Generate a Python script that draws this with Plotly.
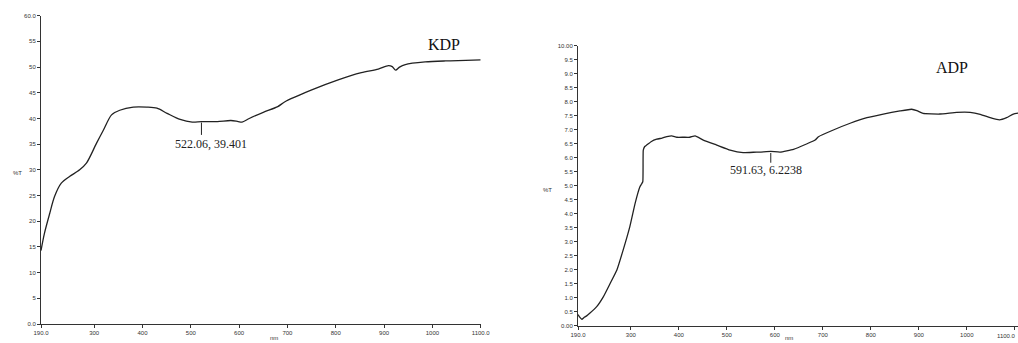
import plotly.graph_objects as go

# KDP transmittance (%T) vs wavelength (nm)
kdp_wl = [190, 197, 208, 218, 232, 249, 270, 284, 305, 319, 336, 353, 381, 409, 430, 451,
          478, 503, 522, 555, 583, 598, 606, 621, 650, 680, 694, 749, 805, 853, 888, 909,
          917, 924, 932, 944, 985, 1027, 1069, 1100]
kdp_t = [14.3, 17.6, 21.5, 24.8, 27.4, 28.7, 30.0, 31.3, 35.2, 37.7, 40.7, 41.6, 42.2, 42.2,
         42.0, 41.0, 39.8, 39.3, 39.4, 39.4, 39.6, 39.4, 39.3, 40.0, 41.2, 42.3, 43.2, 45.5,
         47.5, 48.9, 49.6, 50.3, 50.1, 49.4, 50.0, 50.5, 51.0, 51.2, 51.3, 51.4]

# ADP transmittance (%T) vs wavelength (nm)
adp_wl = [190, 194, 198, 203, 208, 215, 229, 243, 257, 271, 284, 298, 309, 319, 322, 325,
          326, 329, 333, 343, 354, 365, 375, 385, 396, 410, 423, 434, 451, 479, 507, 534,
          562, 569, 591.63, 611, 639, 666, 684, 691, 722, 757, 792, 826, 861, 885, 896,
          909, 944, 979, 1007, 1028, 1052, 1068, 1083, 1097, 1107]
adp_t = [0.40, 0.30, 0.23, 0.30, 0.35, 0.45, 0.68, 1.04, 1.51, 1.99, 2.70, 3.54, 4.37, 4.96,
         5.05, 5.14, 6.27, 6.40, 6.45, 6.58, 6.66, 6.70, 6.75, 6.78, 6.73, 6.73, 6.73, 6.78,
         6.63, 6.45, 6.27, 6.18, 6.20, 6.20, 6.2238, 6.20, 6.30, 6.49, 6.63, 6.75, 6.99,
         7.23, 7.43, 7.56, 7.67, 7.73, 7.68, 7.58, 7.56, 7.62, 7.62, 7.55, 7.41, 7.35, 7.43,
         7.56, 7.59]

x_tickvals = [190, 300, 400, 500, 600, 700, 800, 900, 1000, 1100]
x_ticktext = ["190.0", "300", "400", "500", "600", "700", "800", "900", "1000", "1100.0"]
x2_ticktext = x_ticktext[:-1] + [""]
kdp_yvals = [0, 5, 10, 15, 20, 25, 30, 35, 40, 45, 50, 55, 60]
kdp_ytext = ["0.0", "5", "10", "15", "20", "25", "30", "35", "40", "45", "50", "55", "60.0"]
adp_yvals = [i * 0.5 for i in range(21)]
adp_ytext = ["0.00"] + ["%.1f" % (i * 0.5) for i in range(1, 20)] + ["10.00"]

W, H = 1018, 343
line_col = "#222222"
tick_font = dict(family="Arial, Liberation Sans, sans-serif", size=6, color="#333333")
serif = "Times New Roman, Liberation Serif, serif"

fig = go.Figure()
fig.add_trace(go.Scatter(x=kdp_wl, y=kdp_t, mode="lines",
                         line=dict(color=line_col, width=1.3, shape="spline", smoothing=0.8),
                         xaxis="x", yaxis="y", showlegend=False))
fig.add_trace(go.Scatter(x=adp_wl, y=adp_t, mode="lines",
                         line=dict(color=line_col, width=1.3, shape="spline", smoothing=0.4),
                         xaxis="x2", yaxis="y2", showlegend=False))

axis_common = dict(showgrid=False, zeroline=False, showline=True, linecolor="#333333",
                   linewidth=1, ticks="outside", ticklen=3, tickcolor="#333333",
                   tickfont=tick_font, automargin=False)

fig.update_layout(
    width=W, height=H,
    margin=dict(l=0, r=0, t=0, b=0, autoexpand=False),
    paper_bgcolor="white", plot_bgcolor="white",
    xaxis=dict(domain=[41 / W, 480.7 / W], range=[190, 1100], anchor="y",
               tickmode="array", tickvals=x_tickvals, ticktext=x_ticktext, **axis_common),
    yaxis=dict(domain=[(H - 324) / H, (H - 15.7) / H], range=[0, 60], anchor="x",
               tickmode="array", tickvals=kdp_yvals, ticktext=kdp_ytext, **axis_common),
    xaxis2=dict(domain=[578 / W, 1.0], range=[190, 1106.7], anchor="y2",
                tickmode="array", tickvals=x_tickvals, ticktext=x2_ticktext, **axis_common),
    yaxis2=dict(domain=[(H - 325.7) / H, (H - 45.7) / H], range=[0, 10], anchor="x2",
                tickmode="array", tickvals=adp_yvals, ticktext=adp_ytext, **axis_common),
)

# Marker ticks for the minima
fig.add_shape(type="line", xref="x", yref="y", x0=522.06, x1=522.06, y0=39.2, y1=36.8,
              line=dict(color=line_col, width=1))
fig.add_shape(type="line", xref="x2", yref="y2", x0=591.63, x1=591.63, y0=6.17, y1=5.82,
              line=dict(color=line_col, width=1))

ann = []
ann.append(dict(x=542, y=35.0, xref="x", yref="y", text="522.06, 39.401", showarrow=False,
                font=dict(family=serif, size=12, color="#222222")))
ann.append(dict(x=582, y=5.56, xref="x2", yref="y2", text="591.63, 6.2238", showarrow=False,
                font=dict(family=serif, size=12, color="#222222")))
ann.append(dict(x=444 / W, y=(H - 34) / H, xref="paper", yref="paper", text="KDP",
                showarrow=False, font=dict(family=serif, size=16, color="#111111")))
ann.append(dict(x=970 / W, y=(H - 57) / H, xref="paper", yref="paper", text="ADP",
                showarrow=False, font=dict(family=serif, size=16, color="#111111")))
ann.append(dict(x=11 / W, y=(H - 173) / H, xref="paper", yref="paper", text="%T",
                showarrow=False, font=tick_font))
ann.append(dict(x=547 / W, y=(H - 190) / H, xref="paper", yref="paper", text="%T",
                showarrow=False, font=tick_font))
ann.append(dict(x=268 / W, y=0, xref="paper", yref="paper", text="nm",
                showarrow=False, yanchor="bottom", font=tick_font))
ann.append(dict(x=795 / W, y=0, xref="paper", yref="paper", text="nm",
                showarrow=False, yanchor="bottom", font=tick_font))
# last x tick label of the ADP panel, kept inside the page edge
ann.append(dict(x=1.0, y=(H - 336) / H, xref="paper", yref="paper", text=x_ticktext[-1],
                showarrow=False, xanchor="right", yanchor="middle", font=tick_font))
fig.update_layout(annotations=ann)

fig.write_html("out.html")
